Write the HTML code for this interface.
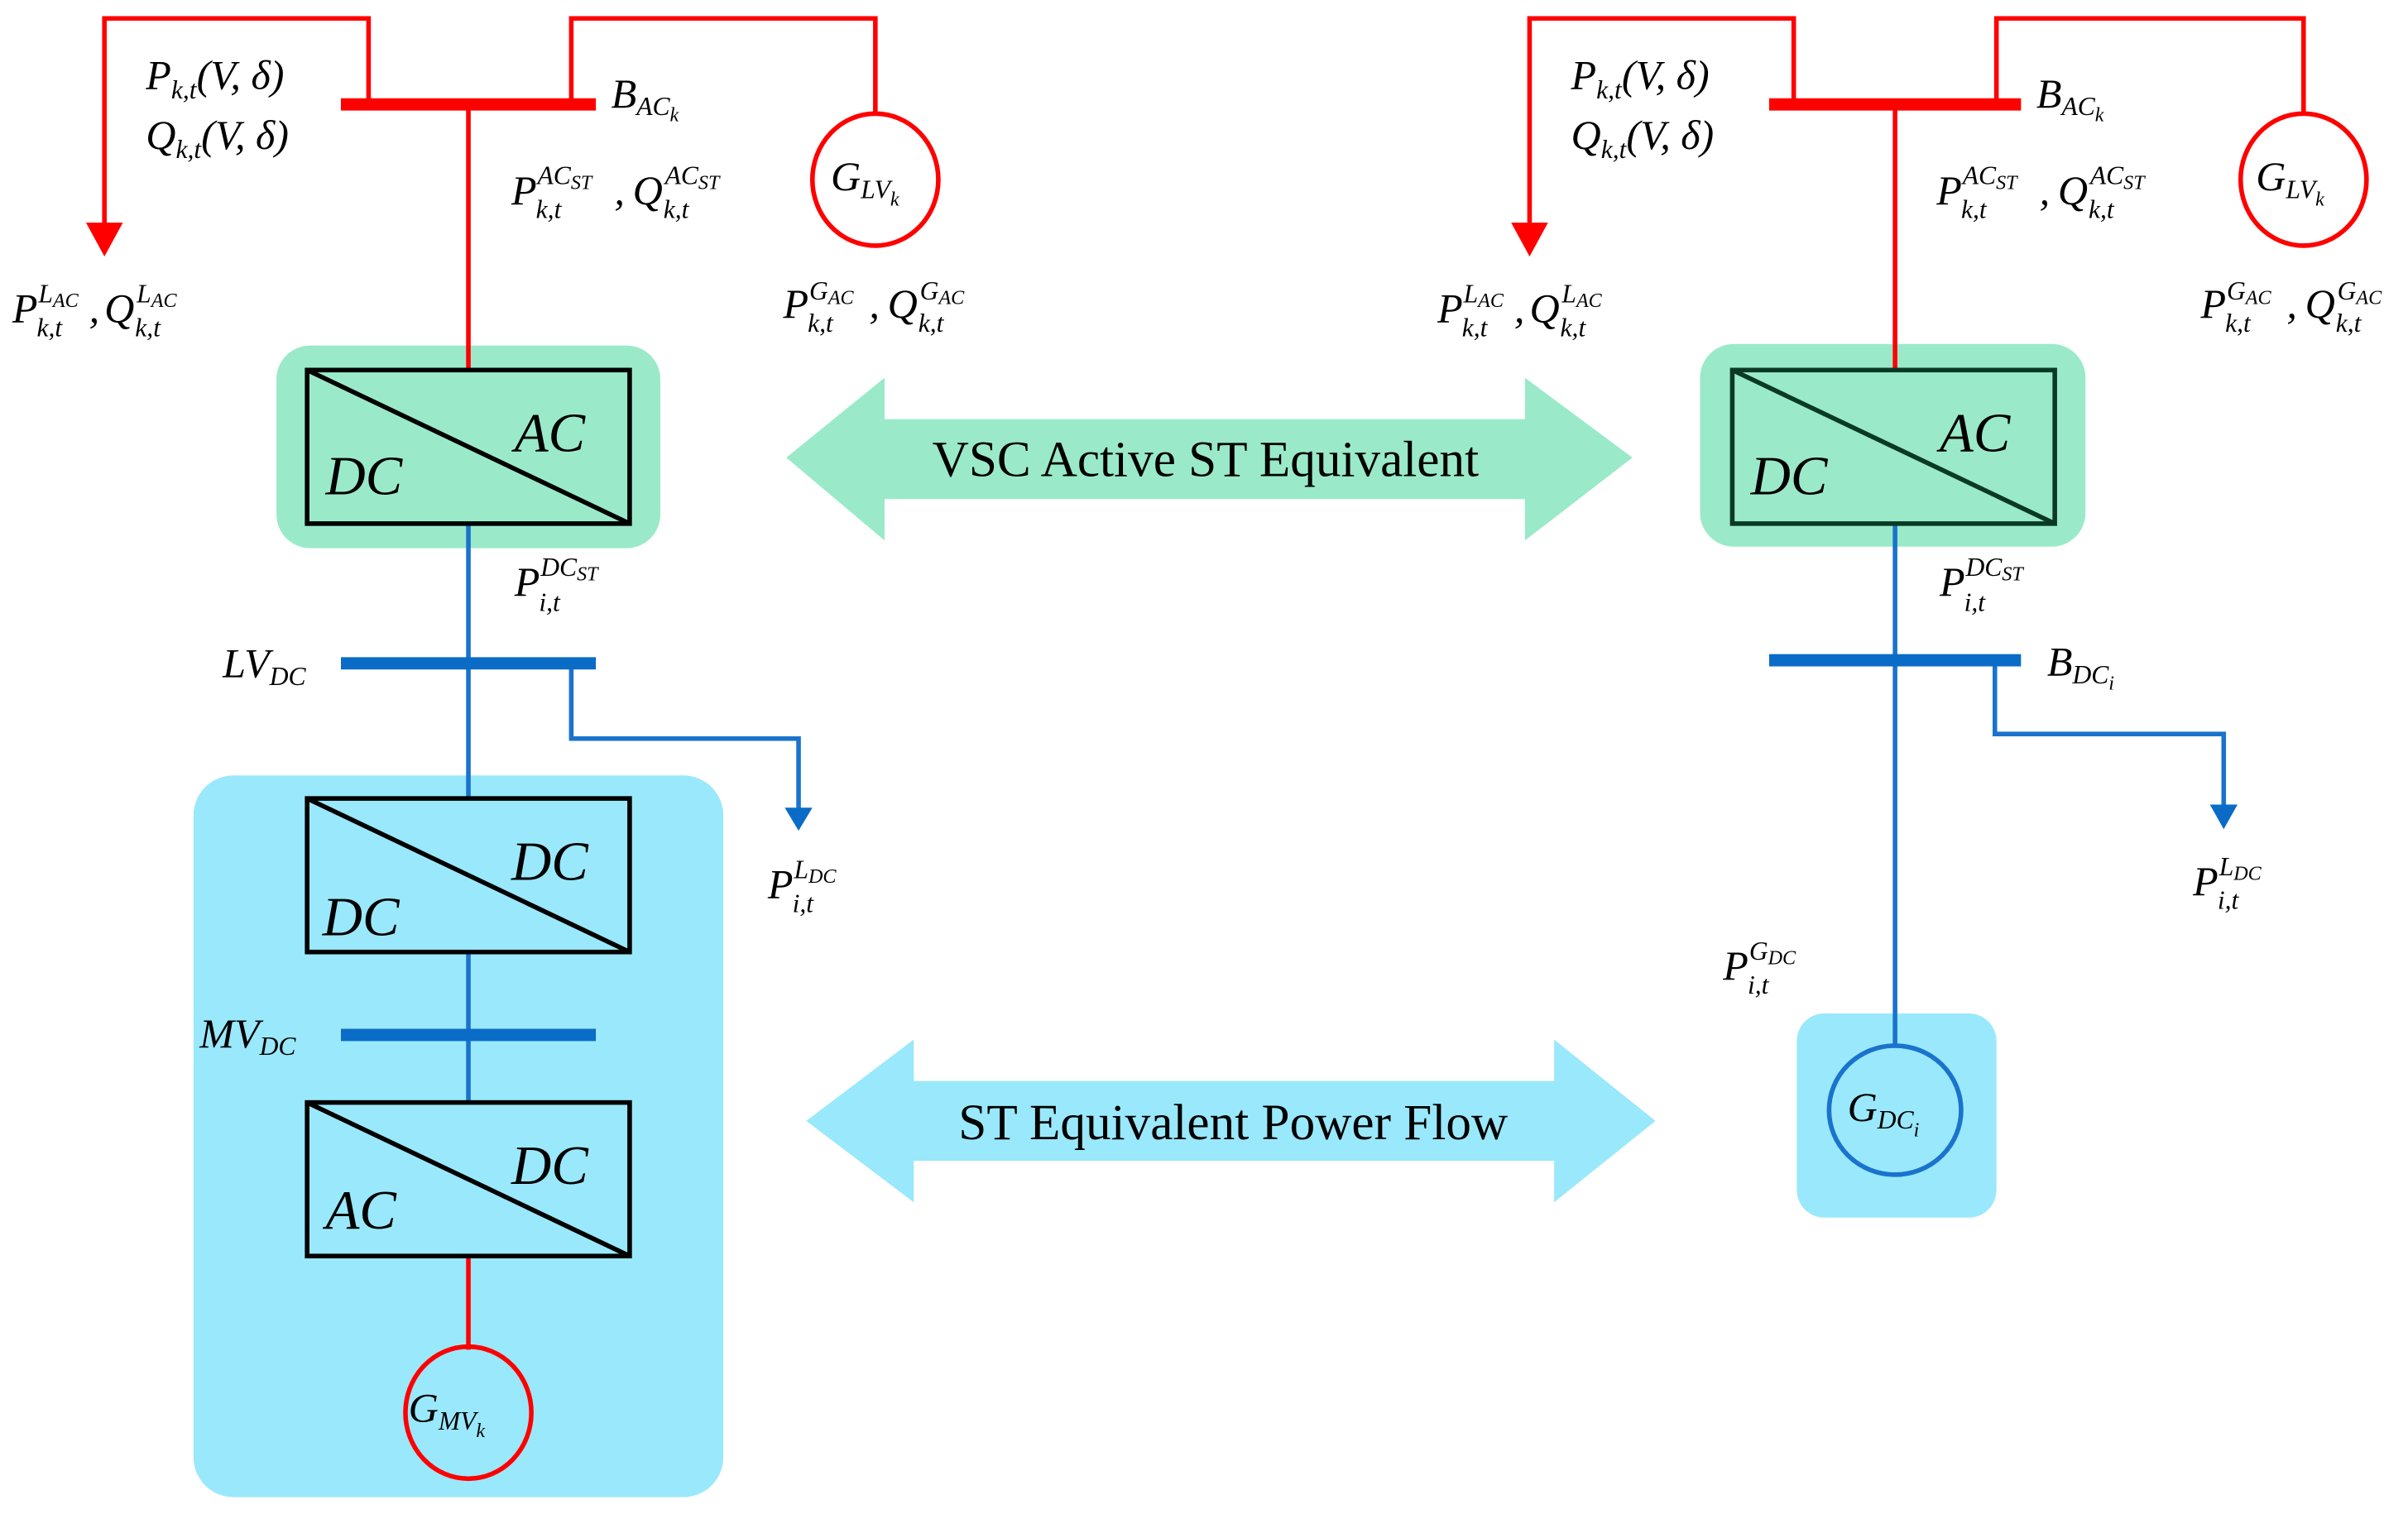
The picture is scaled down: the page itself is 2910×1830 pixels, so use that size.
<!DOCTYPE html>
<html><head><meta charset="utf-8"><style>
html,body{margin:0;padding:0;background:#fff;}
svg{display:block;}
text{font-family:"Liberation Serif",serif;font-style:italic;fill:#000;}
.m{font-size:27px;}
.s{font-size:17px;}
.t{font-style:normal;font-size:33px;}
.b{font-size:36px;}
</style></head><body>
<svg width="2910" height="1830" viewBox="0 0 1568 986" preserveAspectRatio="none" xmlns="http://www.w3.org/2000/svg">
<rect x="180" y="225" width="250" height="132" rx="22" fill="#9aeaca"/>
<rect x="1107" y="224" width="251" height="132" rx="22" fill="#9aeaca"/>
<rect x="126" y="505" width="345" height="470" rx="26" fill="#9ae8fb"/>
<rect x="1170" y="660" width="130" height="133" rx="18" fill="#9ae8fb"/>
<polygon points="512,298 576,246 576,273 993,273 993,246 1063,298 993,352 993,325 576,325 576,352" fill="#9aeaca"/>
<polygon points="525,730 595,677 595,704 1012,704 1012,677 1078,730 1012,783 1012,756 595,756 595,783" fill="#9ae8fb"/>
<text class="t" x="785" y="310" text-anchor="middle">VSC Active ST Equivalent</text>
<text class="t" x="803" y="742" text-anchor="middle">ST Equivalent Power Flow</text>

<g stroke="#ff0000" stroke-width="3" fill="none">
<polyline points="68,150 68,12 240,12 240,68"/>
<polyline points="372,68 372,12 570,12 570,75"/>
<line x1="305" y1="68" x2="305" y2="241"/>
<ellipse cx="570" cy="117" rx="41" ry="43"/>
<line x1="305" y1="818" x2="305" y2="879"/>
<ellipse cx="305" cy="920" rx="41" ry="43"/>
</g>
<rect x="222" y="64" width="166" height="8" fill="#ff0000"/>
<polygon points="56,145 80,145 68,167" fill="#ff0000"/>
<g stroke="#1a73cc" stroke-width="3" fill="none">
<line x1="305" y1="341" x2="305" y2="520"/>
<polyline points="372,432 372,481 520,481 520,530"/>
<line x1="305" y1="620" x2="305" y2="718"/>
</g>
<rect x="222" y="428" width="166" height="8" fill="#0a6cc6"/>
<rect x="222" y="670" width="166" height="8" fill="#0a6cc6"/>
<polygon points="511,526 529,526 520,541" fill="#0a6cc6"/>
<g stroke="#000" stroke-width="3" fill="none">
<rect x="200" y="241" width="210" height="100"/><line x1="200" y1="241" x2="410" y2="341"/>
<rect x="200" y="520" width="210" height="100"/><line x1="200" y1="520" x2="410" y2="620"/>
<rect x="200" y="718" width="210" height="100"/><line x1="200" y1="718" x2="410" y2="818"/>
</g>
<text class="b" x="335" y="294">AC</text><text class="b" x="212" y="322">DC</text>
<text class="b" x="333" y="573">DC</text><text class="b" x="210" y="609">DC</text>
<text class="b" x="333" y="771">DC</text><text class="b" x="212" y="800">AC</text>

<text class="m" x="95" y="58">P<tspan class="s" dy="6">k,t</tspan><tspan dy="-6">(V, δ)</tspan></text>
<text class="m" x="95" y="97">Q<tspan class="s" dy="6">k,t</tspan><tspan dy="-6">(V, δ)</tspan></text>
<text class="m" x="398" y="70">B<tspan class="s" dy="5">AC</tspan><tspan font-size="13" dy="4">k</tspan></text>
<text class="m" x="8" y="210">P</text><text class="s" x="25" y="197">L<tspan font-size="13" dy="3">AC</tspan></text><text class="s" x="24" y="219">k,t</text>
<text class="m" x="58" y="210">,</text><text class="m" x="68" y="210">Q</text><text class="s" x="89" y="197">L<tspan font-size="13" dy="3">AC</tspan></text><text class="s" x="88" y="219">k,t</text>
<text class="m" x="333" y="133">P</text><text class="s" x="350" y="120">AC<tspan font-size="13" dy="3">ST</tspan></text><text class="s" x="349" y="142">k,t</text>
<text class="m" x="400" y="133">,</text><text class="m" x="412" y="133">Q</text><text class="s" x="433" y="120">AC<tspan font-size="13" dy="3">ST</tspan></text><text class="s" x="432" y="142">k,t</text>
<text class="m" x="541" y="124">G<tspan class="s" dy="5">LV</tspan><tspan font-size="13" dy="5">k</tspan></text>
<text class="m" x="510" y="207">P</text><text class="s" x="527" y="195">G<tspan font-size="13" dy="3">AC</tspan></text><text class="s" x="526" y="216">k,t</text>
<text class="m" x="566" y="207">,</text><text class="m" x="578" y="207">Q</text><text class="s" x="599" y="195">G<tspan font-size="13" dy="3">AC</tspan></text><text class="s" x="598" y="216">k,t</text>
<text class="m" x="335" y="388">P</text><text class="s" x="352" y="375">DC<tspan font-size="13" dy="3">ST</tspan></text><text class="s" x="351" y="398">i,t</text>
<text class="m" x="145" y="441">LV<tspan class="s" dy="5">DC</tspan></text>
<text class="m" x="500" y="585">P</text><text class="s" x="517" y="572">L<tspan font-size="13" dy="3">DC</tspan></text><text class="s" x="516" y="594">i,t</text>
<text class="m" x="130" y="682">MV<tspan class="s" dy="5">DC</tspan></text>
<text class="m" x="266" y="926">G<tspan class="s" dy="5">MV</tspan><tspan font-size="13" dy="5">k</tspan></text>

<g stroke="#ff0000" stroke-width="3" fill="none">
<polyline points="996,150 996,12 1168,12 1168,68"/>
<polyline points="1300,68 1300,12 1500,12 1500,75"/>
<line x1="1234" y1="68" x2="1234" y2="241"/>
<ellipse cx="1500" cy="117" rx="41" ry="43"/>
</g>
<rect x="1152" y="64" width="164" height="8" fill="#ff0000"/>
<polygon points="984,145 1008,145 996,167" fill="#ff0000"/>
<g stroke="#1a73cc" stroke-width="3" fill="none">
<line x1="1234" y1="341" x2="1234" y2="681"/>
<polyline points="1299,430 1299,478 1448,478 1448,528"/>
<ellipse cx="1234" cy="723" rx="43" ry="42"/>
</g>
<rect x="1152" y="426" width="164" height="8" fill="#0a6cc6"/>
<polygon points="1439,524 1457,524 1448,540" fill="#0a6cc6"/>
<g stroke="#0b3a24" stroke-width="3" fill="none">
<rect x="1128" y="241" width="210" height="100"/><line x1="1128" y1="241" x2="1338" y2="341"/>
</g>
<text class="b" x="1263" y="294">AC</text><text class="b" x="1140" y="322">DC</text>

<text class="m" x="1023" y="58">P<tspan class="s" dy="6">k,t</tspan><tspan dy="-6">(V, δ)</tspan></text>
<text class="m" x="1023" y="97">Q<tspan class="s" dy="6">k,t</tspan><tspan dy="-6">(V, δ)</tspan></text>
<text class="m" x="1326" y="70">B<tspan class="s" dy="5">AC</tspan><tspan font-size="13" dy="4">k</tspan></text>
<text class="m" x="936" y="210">P</text><text class="s" x="953" y="197">L<tspan font-size="13" dy="3">AC</tspan></text><text class="s" x="952" y="219">k,t</text>
<text class="m" x="986" y="210">,</text><text class="m" x="996" y="210">Q</text><text class="s" x="1017" y="197">L<tspan font-size="13" dy="3">AC</tspan></text><text class="s" x="1016" y="219">k,t</text>
<text class="m" x="1261" y="133">P</text><text class="s" x="1278" y="120">AC<tspan font-size="13" dy="3">ST</tspan></text><text class="s" x="1277" y="142">k,t</text>
<text class="m" x="1328" y="133">,</text><text class="m" x="1340" y="133">Q</text><text class="s" x="1361" y="120">AC<tspan font-size="13" dy="3">ST</tspan></text><text class="s" x="1360" y="142">k,t</text>
<text class="m" x="1469" y="124">G<tspan class="s" dy="5">LV</tspan><tspan font-size="13" dy="5">k</tspan></text>
<text class="m" x="1433" y="207">P</text><text class="s" x="1450" y="195">G<tspan font-size="13" dy="3">AC</tspan></text><text class="s" x="1449" y="216">k,t</text>
<text class="m" x="1489" y="207">,</text><text class="m" x="1501" y="207">Q</text><text class="s" x="1522" y="195">G<tspan font-size="13" dy="3">AC</tspan></text><text class="s" x="1521" y="216">k,t</text>
<text class="m" x="1263" y="388">P</text><text class="s" x="1280" y="375">DC<tspan font-size="13" dy="3">ST</tspan></text><text class="s" x="1279" y="398">i,t</text>
<text class="m" x="1333" y="440">B<tspan class="s" dy="5">DC</tspan><tspan font-size="13" dy="4">i</tspan></text>
<text class="m" x="1428" y="583">P</text><text class="s" x="1445" y="570">L<tspan font-size="13" dy="3">DC</tspan></text><text class="s" x="1444" y="592">i,t</text>
<text class="m" x="1122" y="638">P</text><text class="s" x="1139" y="625">G<tspan font-size="13" dy="3">DC</tspan></text><text class="s" x="1138" y="647">i,t</text>
<text class="m" x="1203" y="730">G<tspan class="s" dy="5">DC</tspan><tspan font-size="13" dy="5">i</tspan></text>
</svg>
</body></html>
